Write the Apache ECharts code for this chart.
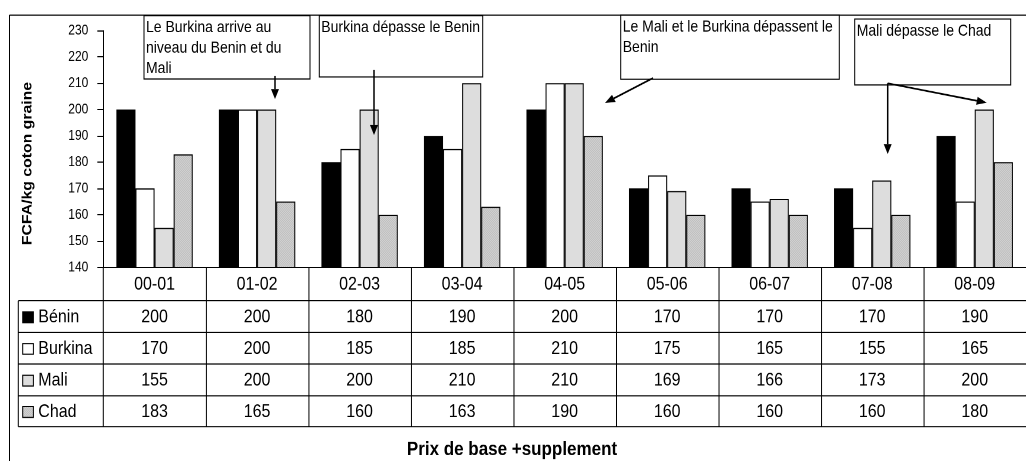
<!DOCTYPE html>
<html>
<head>
<meta charset="utf-8">
<script src="https://cdn.jsdelivr.net/npm/echarts@6/dist/echarts.min.js"></script>
<style>
html,body{margin:0;padding:0;background:#fff;overflow:hidden;}
#wrap{width:1026px;height:461px;overflow:hidden;position:relative;background:#fff;}
#chart{width:1026px;height:394px;transform-origin:0 0;transform:scaleY(1.170051);}
</style>
</head>
<body>
<div id="wrap"><div id="chart"></div></div>
<script>
// ---------------- DATA ----------------
const categories = ['00-01','01-02','02-03','03-04','04-05','05-06','06-07','07-08','08-09'];
const seriesNames = ['Bénin','Burkina','Mali','Chad'];
const benin   = [200,200,180,190,200,170,170,170,190];
const burkina = [170,200,185,185,210,175,165,155,165];
const mali    = [155,200,200,210,210,169,166,173,200];
const chad    = [183,165,160,163,190,160,160,160,180];
const yMin = 140, yMax = 230, yInterval = 10;
const yAxisTitle = 'FCFA/kg coton graine';
const chartTitle = 'Prix de base +supplement';
const annotationTexts = [
  ['Le Burkina arrive au', 'niveau du Benin et du', 'Mali'],
  ['Burkina dépasse le Benin'],
  ['Le Mali et le Burkina dépassent le', 'Benin'],
  ['Mali dépasse le Chad']
];

// ---------------- LAYOUT (target pixel space, y is stretched) ----------------
const S = 461 / 394;               // vertical stretch of the reference
const Y = t => t / S;              // target y -> canvas y
const FONT = "'Liberation Sans', Arial, sans-serif";
const gridLeft = 103.3, gridWidth = 933.3, plotTop = 30.7, plotBottom = 267.3;
const tableLeft = 18.3;
const rowLines = [300.7, 332.3, 364.0, 395.7, 426.7];
const boxes = [
  {x1:144,   y1:15.7, x2:310,   y2:79.0},
  {x1:319.3, y1:15.7, x2:482.7, y2:77.0},
  {x1:620.7, y1:15.0, x2:839.3, y2:79.3},
  {x1:854.7, y1:19.0, x2:1010.7,y2:85.0}
];
const textOffset = 12, textLineStep = 20.6;
const arrows = [
  [275, 76, 275, 99],
  [374, 70, 374, 135],
  [653, 78, 605, 103],
  [887.7, 83.3, 887.7, 154],
  [887.7, 83.3, 986.7, 102.7]
];

// Chad hatch pattern
const pc = document.createElement('canvas');
pc.width = 2; pc.height = 2;
const pctx = pc.getContext('2d');
pctx.fillStyle = '#e8e8e8'; pctx.fillRect(0,0,2,2);
pctx.fillStyle = '#a8a8a8'; pctx.fillRect(0,0,1,1); pctx.fillRect(1,1,1,1);
const chadFill = {image: pc, repeat: 'repeat'};

const fills = ['#000000', '#ffffff', '#dddddd', chadFill];
const values = [benin, burkina, mali, chad];

const chart = echarts.init(document.getElementById('chart'), null, {devicePixelRatio: 2});

chart.setOption({
  animation: false,
  backgroundColor: '#ffffff',
  grid: {left: gridLeft, top: Y(plotTop), width: gridWidth, height: Y(plotBottom) - Y(plotTop), containLabel: false},
  xAxis: {
    type: 'category',
    data: categories,
    axisLine: {show: true, lineStyle: {color: '#000', width: 1}},
    axisTick: {show: false},
    axisLabel: {show: true, color: '#000', fontSize: 16, fontFamily: FONT,
      margin: Y(284.3) - Y(plotBottom), verticalAlign: 'middle'},
    splitLine: {show: false}
  },
  yAxis: {
    type: 'value',
    min: yMin, max: yMax, interval: yInterval,
    axisLine: {show: true, lineStyle: {color: '#000', width: 1}},
    axisTick: {show: true, inside: false, length: 6, lineStyle: {color: '#000'}},
    axisLabel: {color: '#000', fontSize: 12, fontFamily: FONT, margin: 15},
    splitLine: {show: false}
  },
  series: seriesNames.map((n, i) => ({
    name: n,
    type: 'bar',
    data: values[i],
    barGap: '0%',
    barCategoryGap: '25.5%',
    itemStyle: {color: fills[i], borderColor: '#000', borderWidth: 1},
    emphasis: {disabled: true}
  }))
});

// ---------------- GRAPHICS: table, annotations, titles ----------------
const g = [];
function line(x1, y1, x2, y2, w, c, z) {
  g.push({type: 'line', silent: true, z: z || 10,
    shape: {x1: x1, y1: Y(y1), x2: x2, y2: Y(y2)},
    style: {stroke: c || '#000', lineWidth: w || 1}});
}
function text(x, y, str, font, align, extra, z) {
  g.push(Object.assign({type: 'text', silent: true, z: z || 20, x: x, y: Y(y),
    style: {text: str, font: font, fill: '#000', align: align || 'center', verticalAlign: 'middle',
      textAlign: align || 'center', textVerticalAlign: 'middle'}}, extra || {}));
}

// outer border
line(9.5, 15, 9.5, 470, 1);
line(9.5, 15, 1030, 15, 1);

// category centers through the axis scale
const centers = categories.map((c, i) => chart.convertToPixel({xAxisIndex: 0}, i));
const band = gridWidth / categories.length;
const rightEdge = centers[centers.length - 1] + band / 2;

// table horizontal lines
rowLines.forEach(yy => line(tableLeft, yy, rightEdge, yy, 1));
// table vertical lines
line(tableLeft, rowLines[0], tableLeft, rowLines[4], 1);
line(gridLeft, plotBottom, gridLeft, rowLines[4], 1);
centers.forEach(cx => line(cx + band / 2, plotBottom, cx + band / 2, rowLines[4], 1));

// table rows: legend key + name + values
seriesNames.forEach((n, r) => {
  const cy = (rowLines[r] + rowLines[r + 1]) / 2 + 0.8;
  const ks = 10.7;
  g.push({type: 'rect', silent: true, z: 20,
    shape: {x: 22.7, y: Y(cy - ks / 2), width: ks, height: Y(ks)},
    style: {fill: fills[r], stroke: '#000', lineWidth: 1}});
  text(38.3, cy, n, '16px ' + FONT, 'left');
  values[r].forEach((v, i) => text(centers[i], cy, String(v), '16px ' + FONT, 'center'));
});

// annotation boxes
boxes.forEach((b, i) => {
  g.push({type: 'rect', silent: true, z: 30,
    shape: {x: b.x1, y: Y(b.y1), width: b.x2 - b.x1, height: Y(b.y2) - Y(b.y1)},
    style: {fill: '#fff', stroke: '#000', lineWidth: 1}});
  annotationTexts[i].forEach((t, k) =>
    text(b.x1 + 2, b.y1 + textOffset + k * textLineStep, t, '14px ' + FONT, 'left', null, 31));
});

// arrows
arrows.forEach(a => {
  const [x1, y1, x2, y2] = a;
  const ang = Math.atan2(y2 - y1, x2 - x1);
  const L = 10, hw = 4;
  const bx = x2 - L * Math.cos(ang), by = y2 - L * Math.sin(ang);
  const px = -Math.sin(ang), py = Math.cos(ang);
  g.push({type: 'line', silent: true, z: 32,
    shape: {x1: x1, y1: Y(y1), x2: bx, y2: Y(by)},
    style: {stroke: '#000', lineWidth: 1.5}});
  g.push({type: 'polygon', silent: true, z: 32,
    shape: {points: [[x2, Y(y2)], [bx + hw * px, Y(by + hw * py)], [bx - hw * px, Y(by - hw * py)]]},
    style: {fill: '#000'}});
});

// titles
text(28, 163.5, yAxisTitle, 'bold 13.5px ' + FONT, 'center', {rotation: Math.PI / 2});
text(512, 449.7, chartTitle, 'bold 17px ' + FONT, 'center');

chart.setOption({graphic: {elements: g}});
</script>
</body>
</html>
